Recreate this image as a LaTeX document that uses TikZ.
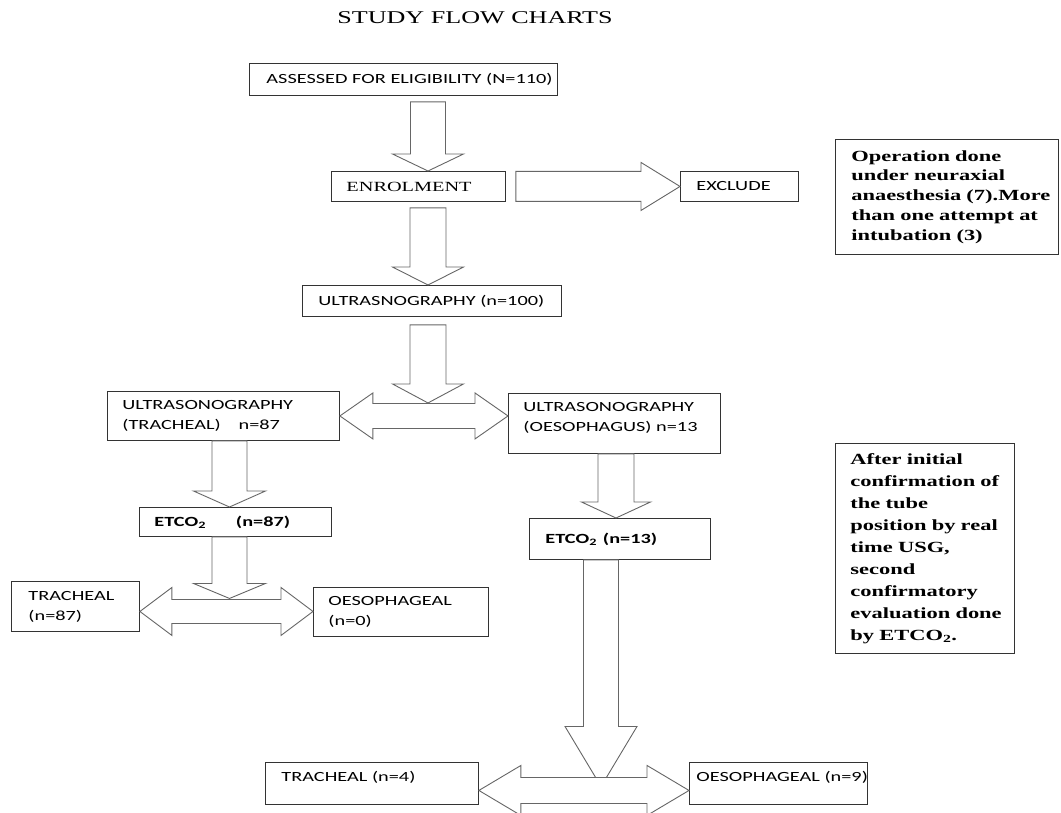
\documentclass[tikz,border=0pt]{standalone}
\usepackage{fontspec}
\usetikzlibrary{calc}
\newfontfamily\calfont[FakeStretch=1.45]{Carlito}
\newfontfamily\timesfont[FakeStretch=1.45]{Liberation Serif}
% vertical down block arrow: #1 start (top centre), #2 tip (y used), #3 shaft half width, #4 head half width, #5 head length
\newcommand{\blkdn}[5]{\draw[blk] let \p1=#1, \p2=#2 in (\x1-#3,\y1) -- (\x1-#3,\y2+#5) -- (\x1-#4,\y2+#5) -- (\x1,\y2) -- (\x1+#4,\y2+#5) -- (\x1+#3,\y2+#5) -- (\x1+#3,\y1) -- cycle;}
% right block arrow: #1 start (left centre), #2 tip (x used)
\newcommand{\blkrt}[5]{\draw[blk] let \p1=#1, \p2=#2 in (\x1,\y1+#3) -- (\x2-#5,\y1+#3) -- (\x2-#5,\y1+#4) -- (\x2,\y1) -- (\x2-#5,\y1-#4) -- (\x2-#5,\y1-#3) -- (\x1,\y1-#3) -- cycle;}
% double-headed horizontal block arrow: #1 left tip, #2 right tip (x used)
\newcommand{\blkdbl}[5]{\draw[blk] let \p1=#1, \p2=#2 in (\x1,\y1) -- (\x1+#5,\y1+#4) -- (\x1+#5,\y1+#3) -- (\x2-#5,\y1+#3) -- (\x2-#5,\y1+#4) -- (\x2,\y1) -- (\x2-#5,\y1-#4) -- (\x2-#5,\y1-#3) -- (\x1+#5,\y1-#3) -- (\x1+#5,\y1-#4) -- cycle;}
\begin{document}
\begin{tikzpicture}[x=1pt,y=-1pt,
  bx/.style={draw=black!80, line width=0.9pt, fill=white, anchor=north west, align=left, inner ysep=0pt},
  sans/.style={font=\calfont\fontsize{14}{20}\selectfont},
  sansb/.style={font=\calfont\bfseries\fontsize{14}{20}\selectfont},
  serifr/.style={font=\timesfont\fontsize{14}{17}\selectfont},
  serifb/.style={font=\timesfont\bfseries\fontsize{15.5}{19.7}\selectfont},
  serifbw/.style={font=\timesfont\bfseries\fontsize{15.5}{22}\selectfont},
  blk/.style={draw=black!60, line width=0.9pt, fill=white, line join=miter}]
\useasboundingbox (0,0) rectangle (1061,813);
\fill[white] (0,0) rectangle (1061,813);

\node[font=\timesfont\fontsize{18}{20}\selectfont] (T) at (475,18) {STUDY FLOW CHARTS};

\node[bx,sans,minimum width=308pt,minimum height=32pt,text width=274pt,inner xsep=17pt] (A) at (249,63) {\mbox{ASSESSED FOR ELIGIBILITY (N=110)}};
\node[bx,serifr,minimum width=174pt,minimum height=30pt,text width=144pt,inner xsep=15pt] (ENR) at (331,171) {ENROLMENT};
\node[bx,sans,minimum width=118pt,minimum height=30pt,text width=86pt,inner xsep=16pt] (EXC) at (680,171) {EXCLUDE};
\node[bx,serifb,minimum width=223pt,minimum height=115pt,text width=191pt,inner xsep=16pt] (OP) at (835,139)
  {\mbox{Operation done}\\\mbox{under neuraxial}\\\mbox{anaesthesia (7).More}\\\mbox{than one attempt at}\\\mbox{intubation (3)}};
\node[bx,sans,minimum width=259pt,minimum height=31pt,text width=227pt,inner xsep=16pt] (ULTRA) at (302,285) {\mbox{ULTRASNOGRAPHY (n=100)}};
\node[bx,sans,minimum width=232pt,minimum height=49pt,text width=202pt,inner xsep=15pt] (TRU) at (107,391)
  {\mbox{ULTRASONOGRAPHY}\\\mbox{(TRACHEAL)\hspace{18pt}n=87}};
\node[bx,sans,minimum width=212pt,minimum height=60pt,text width=182pt,inner xsep=15pt] (OES) at (508,393)
  {\mbox{ULTRASONOGRAPHY}\\\mbox{(OESOPHAGUS) n=13}\\[-8pt]\mbox{}};
\node[bx,sansb,minimum width=192pt,minimum height=29pt,text width=162pt,inner xsep=15pt] (ETC87) at (139,507)
  {\mbox{ETCO\textsubscript{2}\hspace{30pt}(n=87)}};
\node[bx,sansb,minimum width=181pt,minimum height=41pt,text width=149pt,inner xsep=16pt] (ETC13) at (529,518)
  {\mbox{ETCO\textsubscript{2}\hspace{6pt}(n=13)}};
\node[bx,serifbw,minimum width=179pt,minimum height=210pt,text width=149pt,inner xsep=15pt] (AFT) at (835,443)
  {\mbox{After initial}\\\mbox{confirmation of}\\\mbox{the tube}\\\mbox{position by real}\\\mbox{time USG,}\\\mbox{second}\\\mbox{confirmatory}\\\mbox{evaluation done}\\\mbox{by ETCO\textsubscript{2}.}};
\node[bx,sans,minimum width=128pt,minimum height=50pt,text width=94pt,inner xsep=17pt] (TR87) at (11,581) {TRACHEAL\\(n=87)};
\node[bx,sans,minimum width=175pt,minimum height=49pt,text width=145pt,inner xsep=15pt] (OE0) at (313,587) {OESOPHAGEAL\\(n=0)};
\node[bx,sans,minimum width=213pt,minimum height=42pt,text width=181pt,inner xsep=16pt,text height=10pt,text depth=13pt] (TR4) at (265,762) {TRACHEAL (n=4)};
\node[bx,sans,minimum width=178pt,minimum height=42pt,text width=164pt,inner xsep=7pt,text height=10pt,text depth=13pt] (OE9) at (689,762) {\mbox{OESOPHAGEAL (n=9)}};

% connectors (block arrows)
\blkdn{($(A.south west)+(179,6)$)}{(ENR.north)}{17.5pt}{35.5pt}{17pt}
\blkrt{($(ENR.east)+(10,0)$)}{(EXC.west)}{15pt}{24pt}{39pt}
\blkdn{($(ENR.south west)+(97,6)$)}{(ULTRA.north)}{18pt}{35.5pt}{18pt}
\blkdbl{(TRU.east)}{(OES.west)}{12.5pt}{23pt}{33pt}
\blkdn{($(ULTRA.south west)+(126,8)$)}{($(TRU.east)+(0,-13)$)}{18pt}{35.5pt}{19pt}
\blkdn{($(TRU.south west)+(122.5,0)$)}{(ETC87.north)}{17.5pt}{36pt}{16pt}
\blkdn{($(OES.south west)+(108,0)$)}{(ETC13.north)}{18pt}{34.5pt}{16pt}
\blkdbl{($(TR87.east)+(0,5)$)}{(OE0.west)}{12pt}{24pt}{32pt}
\blkdn{($(ETC87.south west)+(90.5,0)$)}{($(TR87.east)+(0,-8)$)}{17.5pt}{36pt}{15pt}
\blkdn{($(ETC13.south west)+(72,0)$)}{($(TR4.east)+(0,3)$)}{17.5pt}{36pt}{60pt}
\blkdbl{($(TR4.east)+(0,7)$)}{(OE9.west)}{13pt}{25pt}{42pt}
\end{tikzpicture}
\end{document}
